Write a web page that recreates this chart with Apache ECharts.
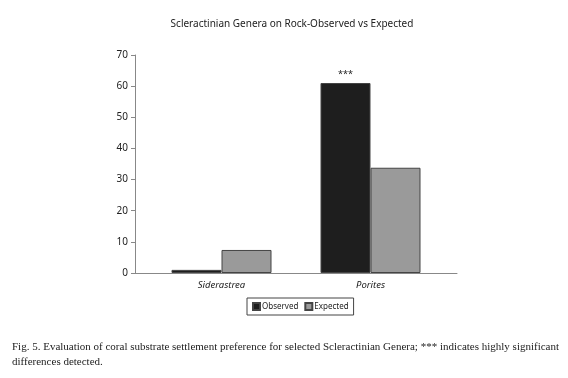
<!DOCTYPE html>
<html>
<head>
<meta charset="utf-8">
<script src="https://cdn.jsdelivr.net/npm/echarts@6/dist/echarts.min.js"></script>
<style>
  html, body { margin: 0; padding: 0; background: #fff; }
  #chart { width: 568px; height: 378px; }
</style>
</head>
<body>
<div id="chart"></div>
<script>
// genera on rock, counts
const genera = ["Siderastrea", "Porites"];
const observed = [1, 61];
const expected = [7.4, 33.8];
const significance = ["", "***"];
const yTicks = [0, 10, 20, 30, 40, 50, 60, 70];

const chart = echarts.init(document.getElementById("chart"));

const gridTop = 55;
const gridBottom = 378 - 273;

const option = {
  animation: false,
  title: {
    text: "Scleractinian Genera on Rock-Observed vs Expected",
    left: 287,
    textAlign: "center",
    top: 14,
    textStyle: {
      fontFamily: "Noto Sans",
      fontSize: 10,
      fontWeight: "normal",
      color: "#222",
    },
  },
  legend: {
    data: ["Observed", "Expected"],
    left: 247,
    top: 298,
    width: 105,
    padding: [4, 5, 4, 5],
    icon: "rect",
    itemWidth: 7,
    itemHeight: 7,
    itemGap: 6,
    borderColor: "#444",
    borderWidth: 1,
    textStyle: {
      fontFamily: "Noto Sans",
      fontSize: 8,
      color: "#222",
      padding: [0, 0, 0, -3],
    },
  },
  // grid 0 holds the bars, grid 1 just draws the axis frame
  grid: [
    { left: 147, right: 568 - 445, top: gridTop, bottom: gridBottom },
    { left: 135, right: 568 - 457, top: gridTop, bottom: gridBottom },
  ],
  xAxis: [
    {
      type: "category",
      gridIndex: 0,
      data: genera,
      axisLine: { show: false },
      axisTick: { show: false },
      axisLabel: {
        margin: 7,
        fontFamily: "Noto Sans",
        fontStyle: "italic",
        fontSize: 9.5,
        color: "#222",
      },
    },
    {
      type: "category",
      gridIndex: 1,
      data: genera,
      axisLine: { lineStyle: { color: "#888", width: 1 } },
      axisTick: { show: false },
      axisLabel: { show: false },
    },
  ],
  yAxis: [
    {
      type: "value",
      gridIndex: 0,
      min: 0,
      max: 70,
      interval: 10,
      show: false,
      splitLine: { show: false },
    },
    {
      type: "value",
      gridIndex: 1,
      min: yTicks[0],
      max: yTicks[yTicks.length - 1],
      interval: 10,
      axisLine: { show: true, lineStyle: { color: "#888", width: 1 } },
      axisTick: { show: true, length: 4, lineStyle: { color: "#888" } },
      axisLabel: {
        margin: 7,
        fontFamily: "Noto Sans",
        fontSize: 10,
        color: "#222",
      },
      splitLine: { show: false },
    },
  ],
  series: [
    {
      name: "Observed",
      type: "bar",
      xAxisIndex: 0,
      yAxisIndex: 0,
      data: observed,
      barWidth: 50,
      barGap: "0%",
      itemStyle: { color: "#1e1e1e", borderColor: "#444", borderWidth: 1 },
      label: {
        show: true,
        position: "top",
        distance: 4,
        formatter: (p) => significance[p.dataIndex],
        fontFamily: "Noto Sans",
        fontSize: 9,
        color: "#222",
      },
    },
    {
      name: "Expected",
      type: "bar",
      xAxisIndex: 0,
      yAxisIndex: 0,
      data: expected,
      barWidth: 50,
      barGap: "0%",
      itemStyle: { color: "#9a9a9a", borderColor: "#444", borderWidth: 1 },
    },
  ],
  graphic: [
    {
      type: "text",
      left: 12,
      top: 340,
      style: {
        text:
          "Fig. 5. Evaluation of coral substrate settlement preference for selected Scleractinian Genera; *** indicates highly significant\ndifferences detected.",
        font: "11px 'Liberation Serif'",
        fill: "#222",
        lineHeight: 15,
      },
    },
  ],
};

chart.setOption(option);
</script>
</body>
</html>
